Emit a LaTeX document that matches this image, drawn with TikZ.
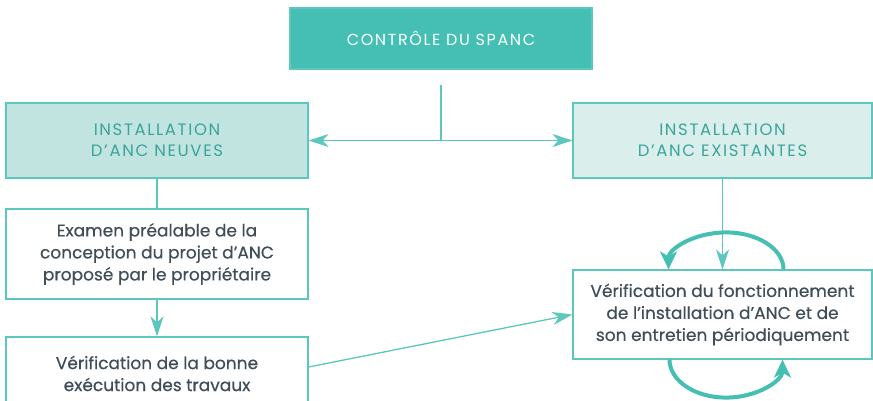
\documentclass[tikz,border=0pt]{standalone}
\usepackage{fontspec}
\setmainfont{Poppins}
\newfontfamily\capsfont[LetterSpace=10]{Poppins}
\newfontfamily\bodyfont[FakeBold=0.4]{Poppins}
\usepackage{tikz}
\definecolor{spanc}{RGB}{69,191,180}
\definecolor{neuves}{RGB}{194,228,225}
\definecolor{existantes}{RGB}{218,239,236}
\definecolor{edge}{RGB}{92,199,188}
\definecolor{headtext}{RGB}{58,164,154}
\definecolor{bodytext}{RGB}{63,77,87}
\usetikzlibrary{arrows.meta}
\tikzstyle{topbox} = [rectangle, minimum width=302pt, minimum height=61pt, align=center, line width=1.2pt, draw=edge, fill=spanc, text=white, font=\capsfont\fontsize{16}{21}\selectfont]
\tikzstyle{headbox} = [rectangle, minimum width=302pt, minimum height=75pt, align=center, line width=1.2pt, draw=edge, text=headtext, font=\capsfont\fontsize{16.5}{21}\selectfont]
\tikzstyle{stepbox} = [rectangle, minimum width=302pt, align=center, line width=1.2pt, draw=edge, fill=white, text=bodytext, font=\bodyfont\fontsize{17}{22}\selectfont]
\tikzstyle{arrow} = [line width=1.3pt, -{Stealth[length=20pt, width=13pt, inset=6pt]}, draw=edge]
\tikzstyle{link} = [line width=1.3pt, draw=edge]
\tikzstyle{cycle} = [line width=4pt, -{Stealth[length=18pt, width=17pt, inset=5pt]}, draw=spanc]

\begin{document}
\begin{tikzpicture}[x=1pt, y=-1pt]
        \useasboundingbox (0,0) rectangle (873,400);
        \node (node0) [topbox] at (441,38.5) {CONTRÔLE DU SPANC};
        \node (node1) [headbox, fill=neuves] at (157,140.5) {INSTALLATION\\D’ANC NEUVES};
        \node (node2) [headbox, fill=existantes, minimum width=299pt] at (722.5,140.5) {INSTALLATION\\D’ANC EXISTANTES};
        \node (node3) [stepbox, minimum height=90pt] at (157,254) {Examen préalable de la\\conception du projet d’ANC\\proposé par le propriétaire};
        \node (node4) [stepbox, minimum height=73pt] at (157,373.5) {Vérification de la bonne\\exécution des travaux};
        \node (node5) [stepbox, minimum width=299pt, minimum height=89pt] at (722.5,314.5) {Vérification du fonctionnement\\de l’installation d’ANC et de\\son entretien périodiquement};

        \coordinate (split) at (441,140.5);
        \draw [link] ([yshift=-15pt]node0.south) -- (split);
        \draw [arrow] (split) -- (node1);
        \draw [arrow] (split) -- (node2);
        \draw [link] (node1) -- (node3);
        \draw [arrow] (node3) -- (node4);
        \draw [arrow] (node2) -- (node5);
        \draw [arrow] ([yshift=6.5pt]node4.east) -- (node5.west);

        \draw [cycle] ([xshift=61pt]node5.north) arc[start angle=0, end angle=180, x radius=57.5pt, y radius=37pt];
        \draw [cycle] ([xshift=-53pt]node5.south) arc[start angle=180, end angle=360, x radius=56.5pt, y radius=38pt];
    \end{tikzpicture}
\end{document}
